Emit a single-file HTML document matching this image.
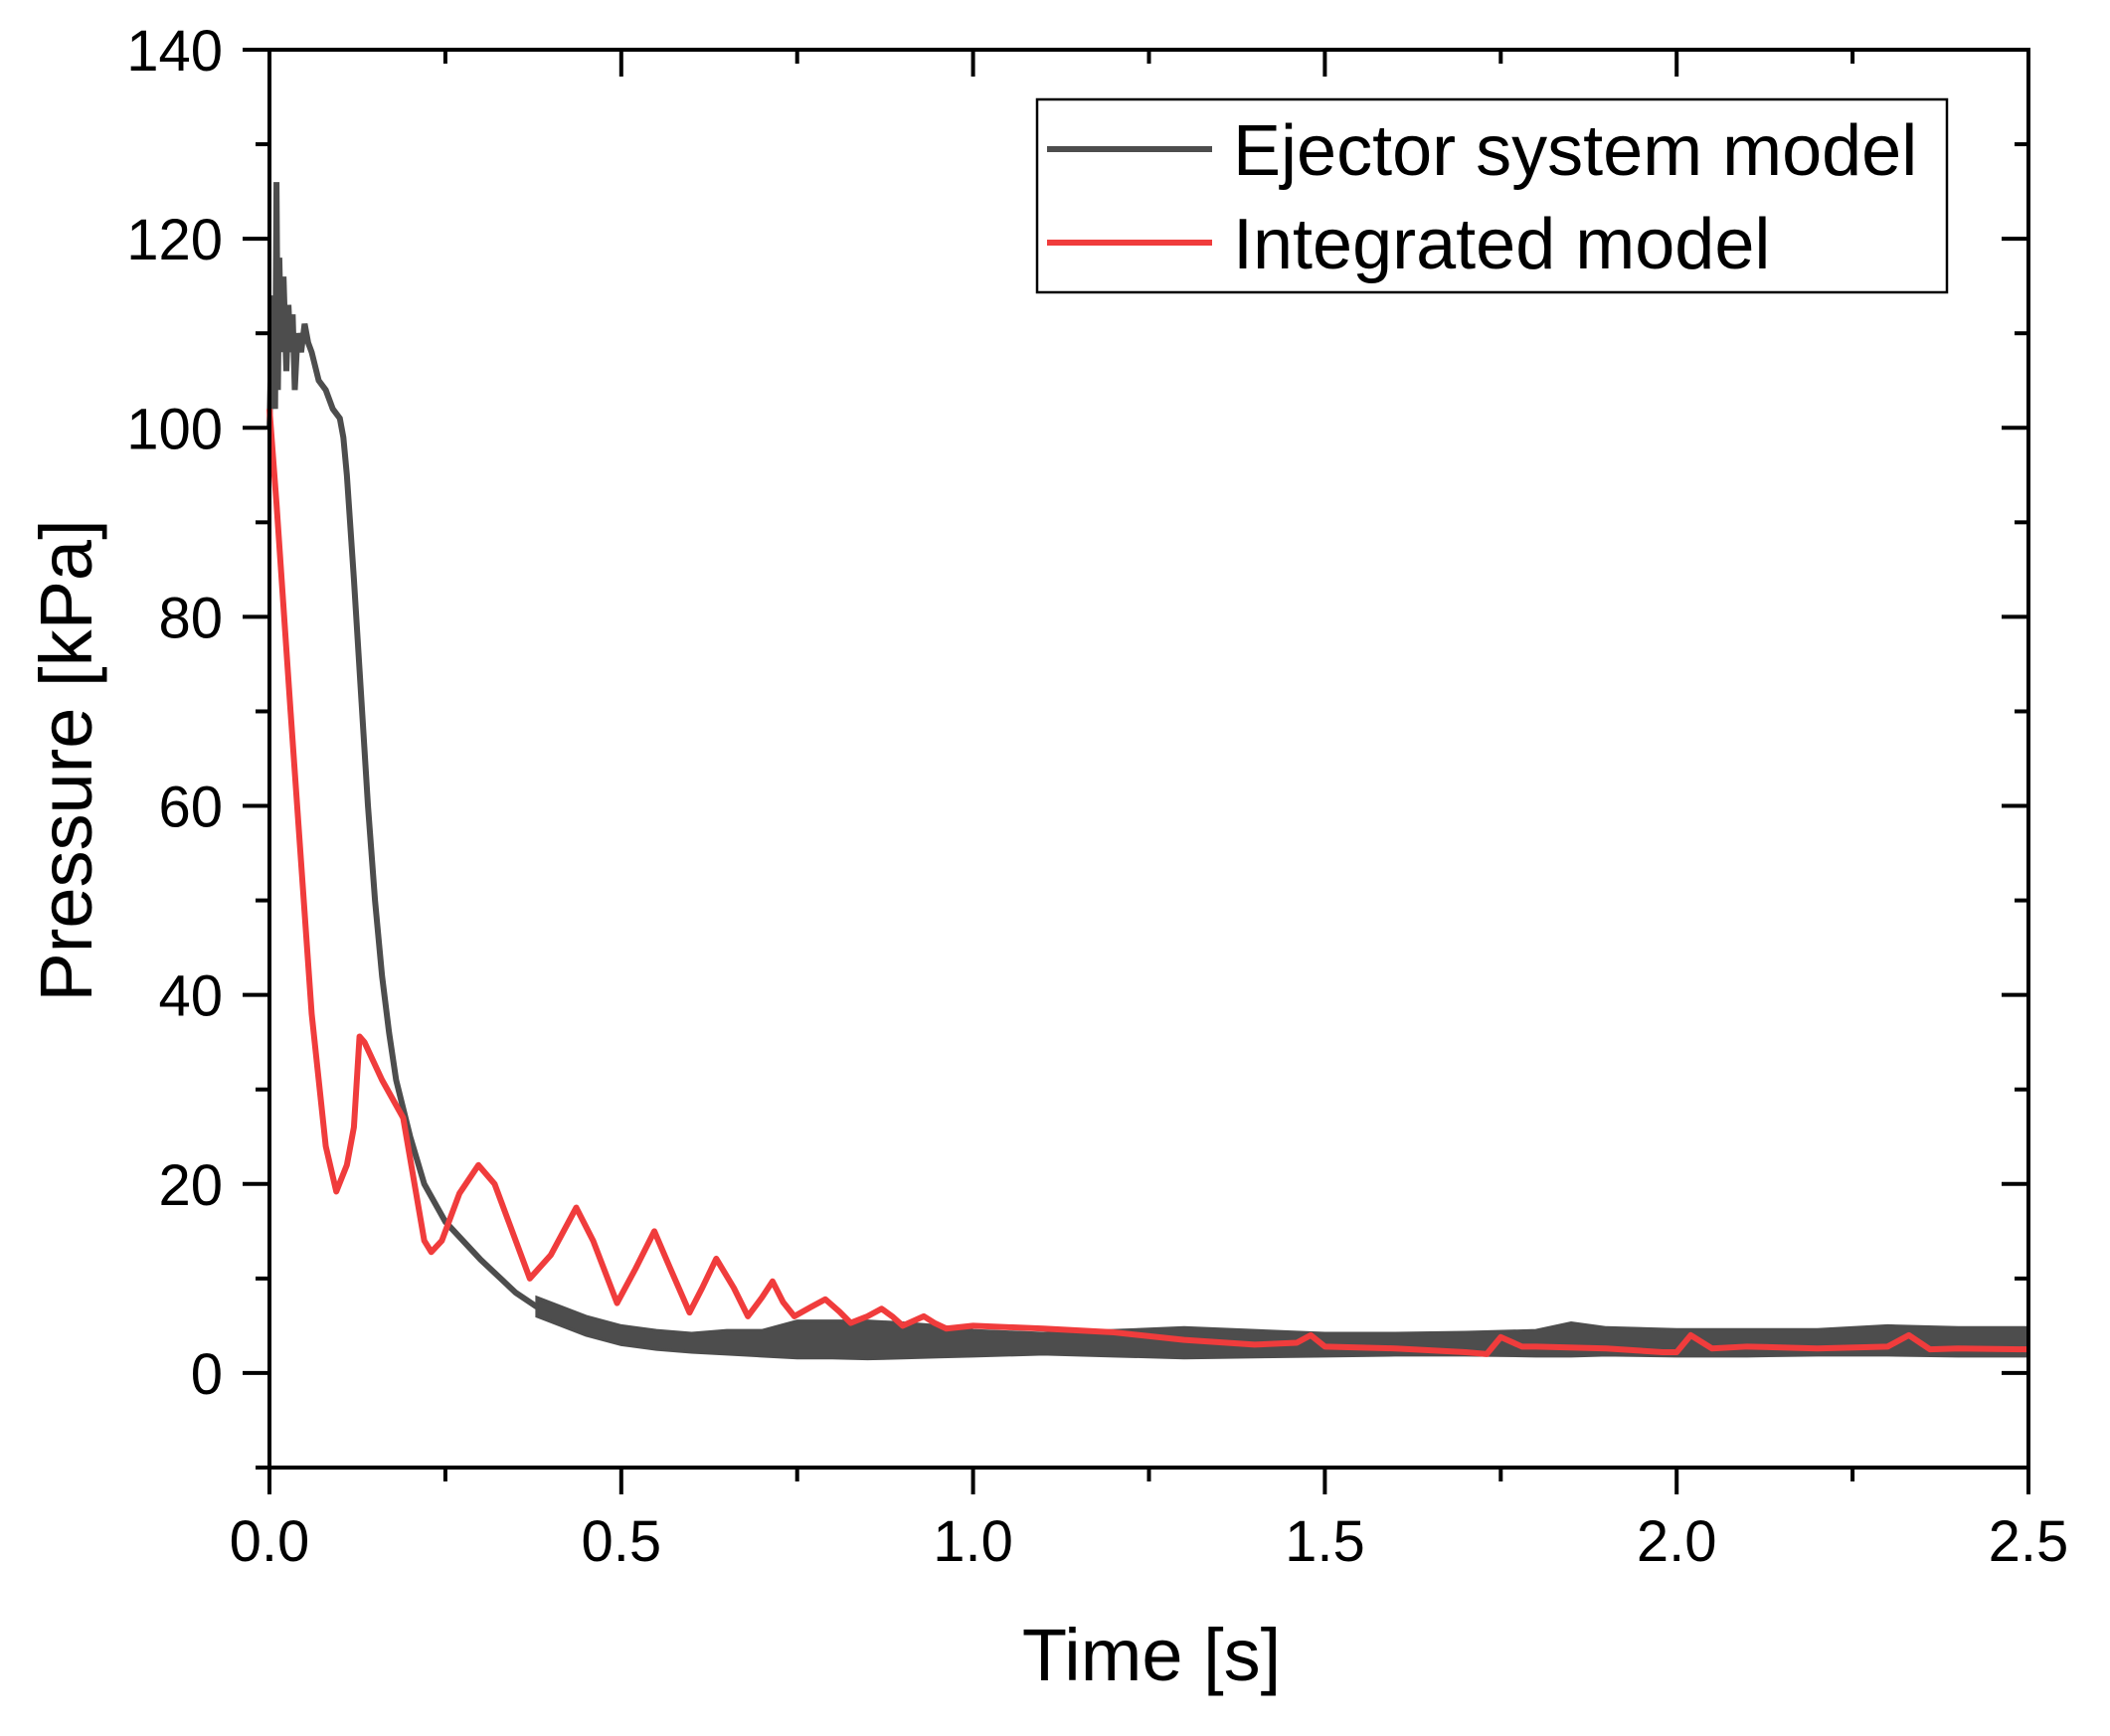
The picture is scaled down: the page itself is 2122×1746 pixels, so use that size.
<!DOCTYPE html>
<html><head><meta charset="utf-8"><style>
html,body{margin:0;padding:0;background:#fff;}
svg{display:block;font-family:"Liberation Sans",Arial,sans-serif;}
</style></head><body>
<svg id="chart" width="2122" height="1746" viewBox="0 0 2122 1746" xmlns="http://www.w3.org/2000/svg">
<g id="marks"></g>
<g id="axes"></g>
</svg>
<script>
// ---- data ----
const xTicks = [0, 0.5, 1.0, 1.5, 2.0, 2.5];
const xTickLabels = ["0.0", "0.5", "1.0", "1.5", "2.0", "2.5"];
const yTicks = [0, 20, 40, 60, 80, 100, 120, 140];
const yTickLabels = ["0", "20", "40", "60", "80", "100", "120", "140"];
const ejectorT = [0,0.004,0.008,0.01,0.012,0.014,0.017,0.02,0.024,0.027,0.03,0.033,0.036,0.04,0.045,0.05,0.055,0.06,0.07,0.08,0.09,0.1,0.105,0.11,0.12,0.13,0.14,0.15,0.16,0.17,0.18,0.2,0.22,0.25,0.3,0.35,0.38];
const ejectorP = [100,114,102,126,104,118,108,116,106,113,108,112,104,110,108,111,109,108,105,104,102,101,99,95,84,72,60,50,42,36,31,25,20,16,12,8.5,7];
const bandT = [0.38,0.45,0.5,0.55,0.6,0.65,0.7,0.75,0.8,0.85,0.9,0.95,1.0,1.1,1.2,1.3,1.4,1.5,1.6,1.7,1.8,1.85,1.9,2.0,2.1,2.2,2.3,2.4,2.5];
const bandLo = [6,4,3,2.5,2.2,2,1.8,1.6,1.6,1.5,1.6,1.7,1.8,2,1.8,1.6,1.7,1.8,1.9,1.9,1.8,1.8,1.9,1.8,1.8,1.9,1.9,1.8,1.8];
const bandHi = [8,6,5,4.5,4.2,4.5,4.5,5.5,5.5,5.5,5.3,5,4.5,4.2,4.5,4.8,4.5,4.2,4.2,4.3,4.5,5.3,4.8,4.6,4.6,4.6,5,4.8,4.8];
const integT = [0,0.01,0.03,0.06,0.08,0.095,0.11,0.12,0.128,0.135,0.16,0.19,0.22,0.23,0.245,0.27,0.297,0.32,0.37,0.4,0.436,0.46,0.494,0.52,0.547,0.57,0.597,0.615,0.635,0.66,0.68,0.7,0.715,0.73,0.746,0.77,0.79,0.81,0.826,0.85,0.87,0.885,0.9,0.915,0.93,0.945,0.962,1.0,1.1,1.2,1.3,1.4,1.46,1.48,1.5,1.6,1.7,1.73,1.75,1.78,1.8,1.9,1.98,2.0,2.02,2.05,2.1,2.2,2.3,2.33,2.36,2.4,2.5];
const integP = [102,92,70,38,24,19.2,22,26,35.6,35,31,27,14,12.8,14,19,22,20,10,12.5,17.5,14,7.4,11,15,11,6.4,9,12.1,9,6,8,9.7,7.5,6,7,7.8,6.5,5.3,6,6.8,6,5,5.5,6,5.3,4.7,5,4.7,4.3,3.5,3,3.2,4,2.8,2.6,2.2,2,3.8,2.8,2.8,2.6,2.2,2.2,4,2.6,2.8,2.6,2.8,4,2.5,2.6,2.5];

// ---- scales ----
const X0=271, X1=2040, YT=50, YB=1476;
const xMin=0, xMax=2.5, yMin=-10, yMax=140;
const sx = t => X0 + (t - xMin) / (xMax - xMin) * (X1 - X0);
const sy = p => YB - (p - yMin) / (yMax - yMin) * (YB - YT);
const NS = "http://www.w3.org/2000/svg";
const marks = document.getElementById('marks');
const axes = document.getElementById('axes');
function mk(tag, attrs, parent){ const e=document.createElementNS(NS,tag); for(const k in attrs) e.setAttribute(k,attrs[k]); parent.appendChild(e); return e; }

// ejector noisy band
let bp = bandT.map((t,i)=>sx(t)+','+sy(bandHi[i])).join(' ') + ' ' + bandT.slice().reverse().map((t,i)=>sx(t)+','+sy(bandLo[bandT.length-1-i])).join(' ');
const band = mk('polygon',{points:bp,fill:'#4d4d4d',stroke:'#4d4d4d','stroke-width':3},marks);


const ej = mk('polyline',{points:ejectorT.map((t,i)=>sx(t)+','+sy(ejectorP[i])).join(' '),fill:'none',stroke:'#4d4d4d','stroke-width':6,'stroke-linejoin':'miter'},marks);


const ig = mk('polyline',{points:integT.map((t,i)=>sx(t)+','+sy(integP[i])).join(' '),fill:'none',stroke:'#f03c3c','stroke-width':6,'stroke-linejoin':'round'},marks);



// frame
const fr = mk('rect',{x:X0,y:YT,width:X1-X0,height:YB-YT,fill:'none',stroke:'#000','stroke-width':4},axes);



// x ticks
xTicks.forEach((v,i)=>{
  const x=sx(v);
  mk('line',{x1:x,y1:YB,x2:x,y2:YB+27,stroke:'#000','stroke-width':4},axes);
  mk('line',{x1:x,y1:YT,x2:x,y2:YT+27,stroke:'#000','stroke-width':4},axes);
  const tx = mk('text',{x:x,y:1570,'font-size':58,'text-anchor':'middle',fill:'#000'},axes);
  tx.textContent = xTickLabels[i];
  
  
  if(i<xTicks.length-1){
    const xm=sx(v+0.25);
    mk('line',{x1:xm,y1:YB,x2:xm,y2:YB+14,stroke:'#000','stroke-width':4},axes);
    mk('line',{x1:xm,y1:YT,x2:xm,y2:YT+14,stroke:'#000','stroke-width':4},axes);
  }
});
// y ticks
yTicks.forEach((v,i)=>{
  const y=sy(v);
  mk('line',{x1:X0-27,y1:y,x2:X0,y2:y,stroke:'#000','stroke-width':4},axes);
  mk('line',{x1:X1-27,y1:y,x2:X1,y2:y,stroke:'#000','stroke-width':4},axes);
  const ty = mk('text',{x:224,y:y+21,'font-size':58,'text-anchor':'end',fill:'#000'},axes);
  ty.textContent = yTickLabels[i];
  
  
});
[-10,10,30,50,70,90,110,130].forEach(v=>{
  const y=sy(v);
  mk('line',{x1:X0-14,y1:y,x2:X0,y2:y,stroke:'#000','stroke-width':4},axes);
  mk('line',{x1:X1-14,y1:y,x2:X1,y2:y,stroke:'#000','stroke-width':4},axes);
});
</script>
<svg width="2122" height="1746" style="position:absolute;left:0;top:0" xmlns="http://www.w3.org/2000/svg">
<text x="1158" y="1690" font-size="74" text-anchor="middle" font-family="Liberation Sans, sans-serif">Time [s]</text>
<text x="0" y="0" font-size="74" text-anchor="middle" font-family="Liberation Sans, sans-serif" transform="translate(92,765) rotate(-90)">Pressure [kPa]</text>
<g>
<rect x="1043" y="100" width="915" height="194" fill="#fff" stroke="#000" stroke-width="2.5"/>
<line x1="1053" y1="150" x2="1219" y2="150" stroke="#4d4d4d" stroke-width="6"/>
<text x="1240" y="176" font-size="72" font-family="Liberation Sans, sans-serif">Ejector system model</text>
<line x1="1053" y1="244" x2="1219" y2="244" stroke="#f03c3c" stroke-width="6"/>
<text x="1240" y="270" font-size="72" font-family="Liberation Sans, sans-serif">Integrated model</text>
</g>
</svg>
</body></html>
